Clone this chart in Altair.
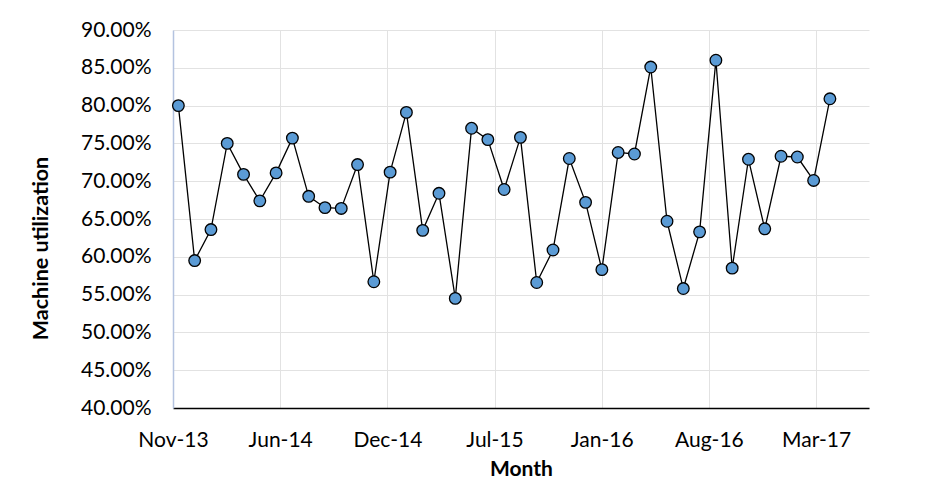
import altair as alt
import pandas as pd

# Monthly machine utilization, Nov-13 .. Mar-17 (41 months)
months = ["Nov-13","Dec-13","Jan-14","Feb-14","Mar-14","Apr-14","May-14","Jun-14","Jul-14","Aug-14",
          "Sep-14","Oct-14","Nov-14","Dec-14","Jan-15","Feb-15","Mar-15","Apr-15","May-15","Jun-15",
          "Jul-15","Aug-15","Sep-15","Oct-15","Nov-15","Dec-15","Jan-16","Feb-16","Mar-16","Apr-16",
          "May-16","Jun-16","Jul-16","Aug-16","Sep-16","Oct-16","Nov-16","Dec-16","Jan-17","Feb-17","Mar-17"]
utilization = [80.0, 59.5, 63.6, 75.0, 70.9, 67.4, 71.1, 75.7, 68.0, 66.5,
               66.4, 72.2, 56.7, 71.2, 79.1, 63.5, 68.4, 54.5, 77.0, 75.5,
               68.9, 75.8, 56.6, 60.9, 73.0, 67.2, 58.3, 73.8, 73.6, 85.1,
               64.7, 55.8, 63.3, 86.0, 58.5, 72.9, 63.7, 73.3, 73.2, 70.1, 80.9]

tick_labels = ["Nov-13", "Jun-14", "Dec-14", "Jul-15", "Jan-16", "Aug-16", "Mar-17"]
tick_positions = [-0.33, 6.25, 12.83, 19.41, 25.99, 32.57, 39.15]
y_ticks = [40, 45, 50, 55, 60, 65, 70, 75, 80, 85, 90]

df = pd.DataFrame({
    "idx": list(range(len(months))),
    "Month": months,
    "util": utilization,
})

FONT = "Lato"
label_js = "[" + ",".join(f"'{t}'" for t in tick_labels) + "]"

x = alt.X("idx:Q",
          scale=alt.Scale(domain=[-0.33, 42.4], nice=False, zero=False),
          axis=alt.Axis(values=tick_positions,
                        labelExpr=f"{label_js}[round((datum.value + 0.33) / 6.58)]",
                        title="Month", titleFontSize=21, titleFontWeight="bold",
                        titleFont=FONT, titleColor="#000000", titlePadding=8,
                        labelFont=FONT, labelFontSize=21, labelColor="#000000",
                        labelPadding=21, ticks=False, labelFlush=False, labelOverlap=False,
                        grid=True, gridColor="#e2e2e2", gridWidth=1,
                        domainColor="#000000", domainWidth=1.5))
y = alt.Y("util:Q",
          scale=alt.Scale(domain=[40, 90], nice=False, zero=False),
          axis=alt.Axis(values=y_ticks, tickCount=11,
                        labelExpr="format(datum.value, '.2f') + '%'",
                        title="Machine utilization", titleFontSize=21.5, titleFontWeight="bold",
                        titleFont=FONT, titleColor="#000000", titlePadding=28, titleY=218,
                        labelFont=FONT, labelFontSize=21, labelColor="#000000",
                        labelPadding=22, ticks=False, labelOverlap=False, labelFlush=False,
                        grid=True, gridColor="#e2e2e2", gridWidth=1,
                        domainColor="#b4c3e0", domainWidth=1.5))

base = alt.Chart(df).encode(x=x, y=y)
line = base.mark_line(color="#000000", strokeWidth=1.3)
points = base.mark_point(filled=True, fill="#5b9bd5", stroke="#000000",
                         strokeWidth=1.3, size=135, opacity=1, shape="circle").encode(
    tooltip=["Month", alt.Tooltip("util:Q", format=".2f")])

chart = (line + points).properties(
    width=696, height=378,
    autosize=alt.AutoSizeParams(type="none"),
    padding={"left": 173, "top": 30, "right": 71, "bottom": 80},
    background="#ffffff",
).configure_view(stroke=None)

chart.save("out.html", embed_options={"renderer": "svg", "actions": False})
